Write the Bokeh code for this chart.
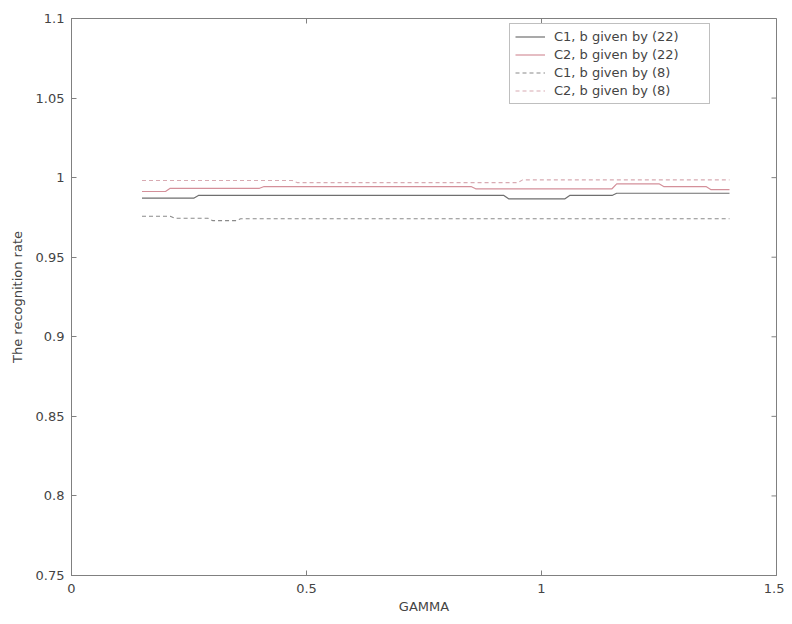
from bokeh.plotting import figure
from bokeh.models import Range1d, FixedTicker, Legend, LegendItem
from bokeh.embed import file_html
from bokeh.resources import INLINE
import math

# ---- data ----
x_c1_22 = [0.15, 0.26, 0.27, 0.92, 0.93, 1.05, 1.06, 1.15, 1.16, 1.40]
y_c1_22 = [0.9871, 0.9871, 0.9888, 0.9888, 0.9867, 0.9867, 0.9888, 0.9888, 0.9902, 0.9902]

x_c2_22 = [0.15, 0.20, 0.21, 0.40, 0.41, 0.85, 0.86, 1.15, 1.16, 1.25, 1.26, 1.35, 1.36, 1.40]
y_c2_22 = [0.9913, 0.9913, 0.9933, 0.9933, 0.9944, 0.9944, 0.9930, 0.9930, 0.9961, 0.9961,
           0.9944, 0.9944, 0.9925, 0.9925]

x_c1_8 = [0.15, 0.21, 0.22, 0.29, 0.30, 0.35, 0.36, 1.40]
y_c1_8 = [0.9757, 0.9757, 0.9745, 0.9745, 0.9730, 0.9730, 0.9742, 0.9742]

x_c2_8 = [0.15, 0.47, 0.48, 0.95, 0.96, 1.40]
y_c2_8 = [0.9982, 0.9982, 0.9969, 0.9969, 0.9986, 0.9986]

x_ticks = [0, 0.5, 1, 1.5]
x_tick_labels = ["0", "0.5", "1", "1.5"]
y_ticks = [0.75, 0.8, 0.85, 0.9, 0.95, 1.0, 1.05, 1.1]
y_tick_labels = ["0.75", "0.8", "0.85", "0.9", "0.95", "1", "1.05", "1.1"]

X_MIN, X_MAX = 0, 1.5
Y_MIN, Y_MAX = 0.75, 1.1

FONT = "DejaVu Sans"
FS = "13px"
TXT = "#444444"
AX = "#808080"

p = figure(width=784, height=616, output_backend="svg", toolbar_location=None,
           x_range=Range1d(X_MIN, X_MAX), y_range=Range1d(Y_MIN, Y_MAX),
           min_border_left=71, min_border_right=8, min_border_top=18, min_border_bottom=41)
p.xgrid.visible = False
p.ygrid.visible = False
p.outline_line_color = AX
p.outline_line_width = 1

def style_axis(ax, ticks, labels):
    ax.ticker = FixedTicker(ticks=ticks)
    ax.major_label_overrides = {t: l for t, l in zip(ticks, labels)}
    ax.major_tick_in = 5
    ax.major_tick_out = 0
    ax.minor_tick_in = 0
    ax.minor_tick_out = 0
    ax.axis_line_color = AX
    ax.major_tick_line_color = AX
    ax.major_label_text_font = FONT
    ax.major_label_text_font_size = FS
    ax.major_label_text_color = TXT
    ax.axis_label_text_font = FONT
    ax.axis_label_text_font_size = FS
    ax.axis_label_text_font_style = "normal"
    ax.axis_label_text_color = TXT

style_axis(p.xaxis[0], x_ticks, x_tick_labels)
style_axis(p.yaxis[0], y_ticks, y_tick_labels)
p.xaxis[0].axis_label = "GAMMA"
p.yaxis[0].axis_label = "The recognition rate"
p.xaxis[0].major_label_standoff = 8
p.xaxis[0].axis_label_standoff = 3
p.yaxis[0].major_label_standoff = 7
p.yaxis[0].axis_label_standoff = 8

# inside ticks on the top and right edges of the box (clipped to the frame)
p.dash(x=x_ticks, y=[Y_MAX] * len(x_ticks), size=10, angle=math.pi / 2,
       line_color=AX, line_width=1)
p.dash(x=[X_MAX] * len(y_ticks), y=y_ticks, size=10, line_color=AX, line_width=1)

r1 = p.line(x_c1_22, y_c1_22, line_color="#6f6f6f", line_width=1.2)
r2 = p.line(x_c2_22, y_c2_22, line_color="#d4909a", line_width=1.2)
r3 = p.line(x_c1_8, y_c1_8, line_color="#8a8a8a", line_width=1.1, line_dash="4 3")
r4 = p.line(x_c2_8, y_c2_8, line_color="#d8aab2", line_width=1.1, line_dash="4 3")

legend = Legend(items=[
    LegendItem(label="C1, b given by (22)", renderers=[r1]),
    LegendItem(label="C2, b given by (22)", renderers=[r2]),
    LegendItem(label="C1, b given by (8)", renderers=[r3]),
    LegendItem(label="C2, b given by (8)", renderers=[r4]),
], location=(438, 471))
legend.label_text_font = FONT
legend.label_text_font_size = FS
legend.label_text_color = TXT
legend.glyph_height = 15
legend.label_height = 15
legend.glyph_width = 30
legend.spacing = 3
legend.padding = 5
legend.label_standoff = 9
legend.label_width = 150
legend.border_line_color = AX
legend.background_fill_alpha = 1.0
legend.margin = 0
p.add_layout(legend, "center")

open("out.html", "w").write(file_html(p, INLINE))
